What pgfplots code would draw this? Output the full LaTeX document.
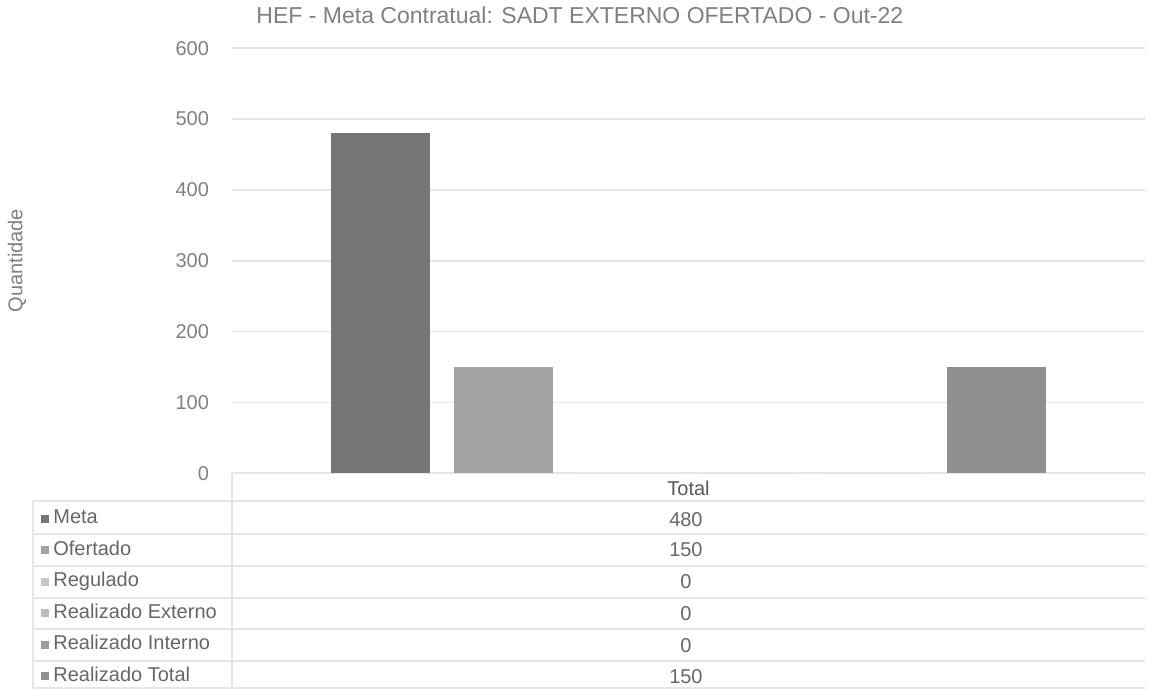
\documentclass[border=0pt]{standalone}
\usepackage{pgfplots}
\pgfplotsset{compat=1.18}
\usepackage{fontspec}
\setmainfont{Liberation Sans}

\definecolor{txt}{HTML}{808080}
\definecolor{cmeta}{HTML}{757575}
\definecolor{coferta}{HTML}{A3A3A3}
\definecolor{cregul}{HTML}{C8C8C8}
\definecolor{cext}{HTML}{BDBDBD}
\definecolor{cint}{HTML}{9A9A9A}
\definecolor{ctot}{HTML}{909090}
\definecolor{tbl}{HTML}{E6E6E6}
\tikzset{tval/.style={font=\fontsize{10}{12}\selectfont, text=black!60}}

\begin{document}
\begin{tikzpicture}
\begin{axis}[
  scale only axis, width=456.5pt, height=212.5pt,
  clip=false,
  ymin=0, ymax=600, ytick={0,100,...,600},
  xmin=-0.5, xmax=0.5, xtick={0}, xticklabels={Total},
  ybar=12pt, bar width=49.5pt,
  ymajorgrids, grid style={tbl, line width=0.8pt},
  axis line style={draw=none}, major tick length=0pt,
  tick label style={font=\fontsize{10}{12}\selectfont, text=txt},
  /pgf/number format/assume math mode=true,
  yticklabel style={xshift=-8pt},
  xticklabel style={yshift=-0.5pt, text=black!65},
  every axis title shift=0pt,
  title={HEF - Meta Contratual: SADT EXTERNO OFERTADO - Out-22},
  title style={at={(axis description cs:0.381,1.078)}, anchor=center,
    font=\fontsize{11.5}{13}\selectfont, text=txt},
  ylabel={Quantidade},
  ylabel style={at={(axis description cs:-0.2355,0.5)}, anchor=center,
    font=\fontsize{10}{12}\selectfont, text=txt},
  legend cell align=left,
  legend style={at={(axis description cs:-0.2158,-0.0729)}, anchor=north west,
    draw=none, fill=none, row sep=5.75pt,
    font=\fontsize{10}{12}\selectfont, text=black!60,
    nodes={inner ysep=0pt, text height=7.5pt, text depth=2.5pt}},
  legend image code/.code={\fill[#1] (-1pt,-2pt) rectangle (3pt,2pt);},
]
\addplot[fill=cmeta, draw=none] coordinates {(0,480)};
\addlegendentry{Meta}
\addplot[fill=coferta, draw=none] coordinates {(0,150)};
\addlegendentry{Ofertado}
\addplot[fill=cregul, draw=none] coordinates {(0,0)};
\addlegendentry{Regulado}
\addplot[fill=cext, draw=none] coordinates {(0,0)};
\addlegendentry{Realizado Externo}
\addplot[fill=cint, draw=none] coordinates {(0,0)};
\addlegendentry{Realizado Interno}
\addplot[fill=ctot, draw=none] coordinates {(0,150)};
\addlegendentry{Realizado Total}

% data table under the chart
\pgfplotsinvokeforeach{-0.0659,-0.1435,-0.2188,-0.2941,-0.3671,-0.4424,-0.505}{
  \draw[tbl, line width=0.8pt] (rel axis cs:-0.2179,#1) -- (rel axis cs:1,#1);}
\draw[tbl, line width=0.8pt] (rel axis cs:0,0) -- (rel axis cs:0,-0.505);
\draw[tbl, line width=0.8pt] (rel axis cs:-0.2179,-0.0659) -- (rel axis cs:-0.2179,-0.505);
\node[tval] at (rel axis cs:0.4972,-0.1082) {480};
\node[tval] at (rel axis cs:0.4972,-0.1788) {150};
\node[tval] at (rel axis cs:0.4972,-0.2541) {0};
\node[tval] at (rel axis cs:0.4972,-0.3294) {0};
\node[tval] at (rel axis cs:0.4972,-0.4047) {0};
\node[tval] at (rel axis cs:0.4972,-0.4776) {150};

\path (rel axis cs:-0.2541,-0.5106) rectangle (rel axis cs:1.0055,1.1106);
\end{axis}
\end{tikzpicture}
\end{document}
